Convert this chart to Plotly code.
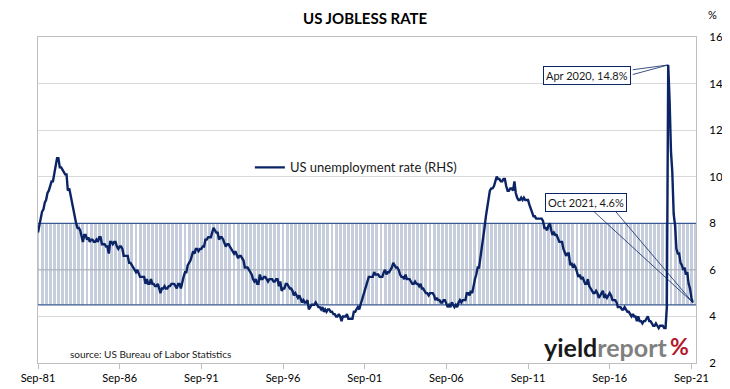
import pandas as pd
import plotly.graph_objects as go

# ---------------- data ----------------
start_month = "1981-09-01"
unemployment = [
    # 1981 Sep-Dec
    7.6, 7.9, 8.3, 8.5,
    # 1982
    8.6, 8.9, 9.0, 9.3, 9.4, 9.6, 9.8, 9.8, 10.1, 10.4, 10.8, 10.8,
    # 1983
    10.4, 10.4, 10.3, 10.2, 10.1, 10.1, 9.4, 9.5, 9.2, 8.8, 8.5, 8.3,
    # 1984
    8.0, 7.8, 7.8, 7.7, 7.4, 7.2, 7.5, 7.5, 7.3, 7.4, 7.2, 7.3,
    # 1985
    7.3, 7.2, 7.2, 7.3, 7.2, 7.4, 7.4, 7.1, 7.1, 7.1, 7.0, 7.0,
    # 1986
    6.7, 7.2, 7.2, 7.1, 7.2, 7.2, 7.0, 6.9, 7.0, 7.0, 6.9, 6.6,
    # 1987
    6.6, 6.6, 6.6, 6.3, 6.3, 6.2, 6.1, 6.0, 5.9, 6.0, 5.8, 5.7,
    # 1988
    5.7, 5.7, 5.7, 5.4, 5.6, 5.4, 5.4, 5.6, 5.4, 5.4, 5.3, 5.3,
    # 1989
    5.4, 5.2, 5.0, 5.2, 5.2, 5.3, 5.2, 5.2, 5.3, 5.3, 5.4, 5.4,
    # 1990
    5.4, 5.3, 5.2, 5.4, 5.4, 5.2, 5.5, 5.7, 5.9, 5.9, 6.2, 6.3,
    # 1991
    6.4, 6.6, 6.8, 6.7, 6.9, 6.9, 6.8, 6.9, 6.9, 7.0, 7.0, 7.3,
    # 1992
    7.3, 7.4, 7.4, 7.4, 7.6, 7.8, 7.7, 7.6, 7.6, 7.3, 7.4, 7.4,
    # 1993
    7.3, 7.1, 7.0, 7.1, 7.1, 7.0, 6.9, 6.8, 6.7, 6.8, 6.6, 6.5,
    # 1994
    6.6, 6.6, 6.5, 6.4, 6.1, 6.1, 6.1, 6.0, 5.9, 5.8, 5.6, 5.5,
    # 1995
    5.6, 5.4, 5.4, 5.8, 5.6, 5.6, 5.7, 5.7, 5.6, 5.5, 5.6, 5.6,
    # 1996
    5.6, 5.5, 5.5, 5.6, 5.6, 5.3, 5.5, 5.1, 5.2, 5.2, 5.4, 5.4,
    # 1997
    5.3, 5.2, 5.2, 5.1, 4.9, 5.0, 4.9, 4.8, 4.9, 4.7, 4.6, 4.7,
    # 1998
    4.6, 4.6, 4.7, 4.3, 4.4, 4.5, 4.5, 4.5, 4.6, 4.5, 4.4, 4.4,
    # 1999
    4.3, 4.4, 4.2, 4.3, 4.2, 4.3, 4.3, 4.2, 4.2, 4.1, 4.1, 4.0,
    # 2000
    4.0, 4.1, 4.0, 3.8, 4.0, 4.0, 4.0, 4.1, 3.9, 3.9, 3.9, 3.9,
    # 2001
    4.2, 4.2, 4.3, 4.4, 4.3, 4.5, 4.6, 4.9, 5.0, 5.3, 5.5, 5.7,
    # 2002
    5.7, 5.7, 5.7, 5.9, 5.8, 5.8, 5.8, 5.7, 5.7, 5.7, 5.9, 6.0,
    # 2003
    5.8, 5.9, 5.9, 6.0, 6.1, 6.3, 6.2, 6.1, 6.1, 6.0, 5.8, 5.7,
    # 2004
    5.7, 5.6, 5.8, 5.6, 5.6, 5.6, 5.5, 5.4, 5.4, 5.5, 5.4, 5.4,
    # 2005
    5.3, 5.4, 5.2, 5.2, 5.1, 5.0, 5.0, 4.9, 5.0, 5.0, 5.0, 4.9,
    # 2006
    4.7, 4.8, 4.7, 4.7, 4.6, 4.6, 4.7, 4.7, 4.5, 4.4, 4.5, 4.4,
    # 2007
    4.6, 4.5, 4.4, 4.5, 4.4, 4.6, 4.7, 4.6, 4.7, 4.7, 4.7, 5.0,
    # 2008
    5.0, 4.9, 5.1, 5.0, 5.4, 5.6, 5.8, 6.1, 6.1, 6.5, 6.8, 7.3,
    # 2009
    7.8, 8.3, 8.7, 9.0, 9.4, 9.5, 9.5, 9.6, 9.8, 10.0, 9.9, 9.9,
    # 2010
    9.8, 9.8, 9.9, 9.9, 9.6, 9.4, 9.4, 9.5, 9.5, 9.4, 9.8, 9.3,
    # 2011
    9.1, 9.0, 9.0, 9.1, 9.0, 9.1, 9.0, 9.0, 9.0, 8.8, 8.6, 8.5,
    # 2012
    8.3, 8.3, 8.2, 8.2, 8.2, 8.2, 8.2, 8.1, 7.8, 7.8, 7.7, 7.9,
    # 2013
    8.0, 7.7, 7.5, 7.6, 7.5, 7.5, 7.3, 7.2, 7.2, 7.2, 6.9, 6.7,
    # 2014
    6.6, 6.7, 6.7, 6.2, 6.3, 6.1, 6.2, 6.1, 5.9, 5.7, 5.8, 5.6,
    # 2015
    5.7, 5.5, 5.4, 5.4, 5.6, 5.3, 5.2, 5.1, 5.0, 5.0, 5.1, 5.0,
    # 2016
    4.8, 4.9, 5.0, 5.1, 4.8, 4.9, 4.8, 4.9, 5.0, 4.9, 4.7, 4.7,
    # 2017
    4.7, 4.6, 4.4, 4.4, 4.4, 4.3, 4.3, 4.4, 4.3, 4.2, 4.2, 4.1,
    # 2018
    4.0, 4.1, 4.0, 4.0, 3.8, 4.0, 3.8, 3.8, 3.7, 3.8, 3.8, 3.9,
    # 2019
    4.0, 3.8, 3.8, 3.7, 3.6, 3.6, 3.7, 3.6, 3.5, 3.6, 3.6, 3.6,
    # 2020
    3.5, 3.5, 4.4, 14.8, 13.3, 11.1, 10.2, 8.4, 7.9, 6.9, 6.7, 6.7,
    # 2021 Jan-Oct
    6.3, 6.2, 6.0, 6.1, 5.8, 5.9, 5.4, 5.2, 4.8, 4.6,
]
dates = pd.date_range(start_month, periods=len(unemployment), freq="MS")

band_low = 4.5
band_high = 8.0
axis_start = "1981-09-01"
axis_end = "2021-12-13"
band_dates = pd.date_range("1981-09-01", "2021-12-01", freq="3MS")

peak_label = ("2020-04-01", 14.8, "Apr 2020, 14.8%")
last_label = ("2021-10-01", 4.6, "Oct 2021, 4.6%")

x_tick_start = "1981-09-01"
y_ticks = [2, 4, 6, 8, 10, 12, 14, 16]

NAVY = "#0b2466"
BAND = "#c6cedd"
BAND_EDGE = "#3a5a94"
FONT = "Lato"

fig = go.Figure()

# striped band (4.5% - 8%)
fig.add_trace(go.Bar(
    x=band_dates, y=[band_high - band_low] * len(band_dates), base=band_low,
    marker=dict(color=BAND, line=dict(width=0)),
    width=1000 * 3600 * 24 * 65, showlegend=False, hoverinfo="skip",
))
# gridline visible through band
fig.add_trace(go.Scatter(
    x=[axis_start, axis_end], y=[6, 6], mode="lines",
    line=dict(color="#a6abb4", width=1), showlegend=False, hoverinfo="skip",
))
for lvl in (band_low, band_high):
    fig.add_trace(go.Scatter(
        x=[axis_start, axis_end], y=[lvl, lvl], mode="lines",
        line=dict(color=BAND_EDGE, width=1.2), showlegend=False, hoverinfo="skip",
    ))

fig.add_trace(go.Scatter(
    x=dates, y=unemployment, mode="lines", name="US unemployment rate (RHS)",
    line=dict(color=NAVY, width=2.4), hoverinfo="skip",
))

annotations = []
# callout boxes
for (xd, yv, txt), (bx, by), tails in [
    (peak_label, (-81, 11), [(-37, 5), (-37, 10)]),
    (last_label, (-107, -100), [(-100, -92), (-78, -92)]),
]:
    for ax_, ay_ in tails:
        annotations.append(dict(
            x=xd, y=yv, xref="x", yref="y", text="", showarrow=True,
            arrowhead=0, arrowwidth=0.8, arrowcolor=NAVY, ax=ax_, ay=ay_,
        ))
    annotations.append(dict(
        x=xd, y=yv, xref="x", yref="y", text=txt, showarrow=True,
        arrowcolor="rgba(0,0,0,0)", ax=bx, ay=by,
        font=dict(family=FONT, size=11, color="#1a1a1a"),
        bgcolor="white", bordercolor=NAVY, borderwidth=1, borderpad=2,
    ))

# positions below are expressed relative to the plot area (screen px)
PX0, PY0 = 38.0, 363.0
PW, PH = 658.0, 326.0
annotations += [
    dict(text="<b>US JOBLESS RATE</b>", x=(365 - PX0) / PW, y=(PY0 - 18) / PH,
         xref="paper", yref="paper", xanchor="center", yanchor="middle",
         showarrow=False, font=dict(family=FONT, size=15, color="#000000")),
    dict(text="source: US Bureau of Labor Statistics", x=(68 - PX0) / PW, y=(PY0 - 354) / PH,
         xref="paper", yref="paper", xanchor="left", yanchor="middle",
         showarrow=False, font=dict(family=FONT, size=10, color="#1a1a1a")),
    dict(text="<b>yield</b><b><span style='color:#808080'>report</span></b>",
         x=(669 - PX0) / PW, y=(PY0 - 347) / PH, xref="paper", yref="paper", xanchor="right",
         yanchor="middle", showarrow=False,
         font=dict(family=FONT, size=25, color="#1a1a1a")),
    dict(text="<b>%</b>", x=(691 - PX0) / PW, y=(PY0 - 346) / PH, xref="paper", yref="paper",
         xanchor="right", yanchor="middle", showarrow=False,
         font=dict(family=FONT, size=23, color="#b3182b")),
    dict(text="%", x=(712 - PX0) / PW, y=(PY0 - 15) / PH, xref="paper", yref="paper",
         xanchor="center", yanchor="middle", showarrow=False,
         font=dict(family=FONT, size=11, color="#000000")),
]

# the page body adds an 8px offset, so the figure is drawn 8px smaller
fig.update_layout(
    width=722, height=381,
    margin=dict(l=30, r=34, t=29, b=26),
    paper_bgcolor="white", plot_bgcolor="white",
    showlegend=True,
    legend=dict(x=0.322, y=0.60, xanchor="left", yanchor="middle",
                bgcolor="rgba(0,0,0,0)", font=dict(family=FONT, size=13, color="#1a1a1a")),
    annotations=annotations,
    bargap=0,
    hovermode=False,
    font=dict(family=FONT),
)
fig.update_xaxes(
    type="date", range=[axis_start, axis_end], automargin=False,
    tick0=x_tick_start, dtick="M60", tickformat="%b-%y",
    showgrid=False, showline=True, linecolor="#bfbfbf", linewidth=1, mirror=True,
    ticks="outside", ticklen=5, tickcolor="#bfbfbf",
    tickfont=dict(family=FONT, size=11, color="#000000"),
)
fig.update_yaxes(
    side="right", range=[2, 16], tickvals=y_ticks, automargin=False,
    showgrid=True, gridcolor="#d9d9d9", gridwidth=1,
    showline=True, linecolor="#bfbfbf", linewidth=1, mirror=True,
    ticks="", ticklabelstandoff=10, zeroline=False,
    tickfont=dict(family=FONT, size=11.5, color="#000000"),
)

fig.write_html("out.html")
